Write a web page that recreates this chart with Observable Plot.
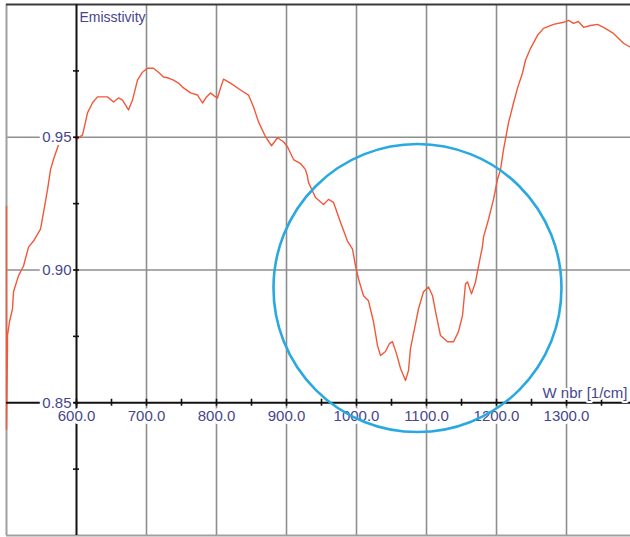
<!DOCTYPE html>
<html>
<head>
<meta charset="utf-8">
<script src="https://cdn.jsdelivr.net/npm/d3@7"></script>
<script src="https://cdn.jsdelivr.net/npm/@observablehq/plot@0.6"></script>
<style>
  html, body { margin: 0; padding: 0; background: #fff; }
  #chart { width: 630px; height: 537px; overflow: hidden; }
</style>
</head>
<body>
<div id="chart"></div>
<script>
// ---- data ----
const wavenumber = [
  500, 500, 501.4, 501.4, 504.3, 508.6, 510, 517.1, 524.3, 531.4, 538.6, 548.6, 552.9, 558.6, 562.9, 567.1,
  574.3, 594.3, 601.4, 608.6, 612.9, 615.7, 622.9, 630, 644.3, 652.9, 660, 665.7, 674.3, 680, 684.3,
  687.1, 694.3, 701.4, 710, 717.1, 724.3, 731.4, 738.6, 745.7, 751.4, 762.9, 772.9, 780, 785.7, 791.4,
  797.1, 801.4, 805.7, 810, 820, 834.3, 845.7, 852.9, 860, 870, 878.6, 887.1, 895.7, 901.4, 910, 920,
  927.1, 930, 931.4, 941.4, 952.9, 960, 967.1, 977.1, 987.1, 994.3, 998.6, 1002.9, 1010, 1017.1, 1024.3,
  1030, 1034.3, 1041.4, 1047.1, 1051.4, 1057.1, 1062.9, 1070, 1074.3, 1077.1, 1081.4, 1088.6, 1095.7,
  1102.9, 1108.6, 1112.9, 1120, 1130, 1138.6, 1145.7, 1151.4, 1155.7, 1158.6, 1164.3, 1170, 1174.3, 1180,
  1181.4, 1188.6, 1195.7, 1201.4, 1205.7, 1210, 1217.1, 1224.3, 1230, 1237.1, 1241.4, 1248.6, 1258.6,
  1267.1, 1281.4, 1295.7, 1302.9, 1310, 1317, 1324.3, 1334.3, 1344.3, 1352.9, 1367.1, 1381.4, 1391.4
];
const emissivity = [
  0.924, 0.840, 0.8704, 0.8753, 0.8805, 0.8854, 0.8918, 0.8978, 0.9015, 0.9086, 0.9109, 0.9154, 0.9217, 0.9303, 0.9378, 0.9416,
  0.9472, 0.9502, 0.9494, 0.9509, 0.9558, 0.9592, 0.9630, 0.9652, 0.9652, 0.9633, 0.9648, 0.9640, 0.9603, 0.9640, 0.9685,
  0.9715, 0.9745, 0.9760, 0.9760, 0.9745, 0.9727, 0.9723, 0.9715, 0.9704, 0.9689, 0.9667, 0.9659, 0.9629, 0.9652, 0.9667,
  0.9655, 0.9648, 0.9685, 0.9719, 0.9704, 0.9678, 0.9659, 0.9614, 0.9558, 0.9502, 0.9468, 0.9498, 0.9483, 0.9464, 0.9416, 0.9401,
  0.9378, 0.9352, 0.9330, 0.9273, 0.9247, 0.9266, 0.9255, 0.9180, 0.9109, 0.9079, 0.9015, 0.8966, 0.8903, 0.8884, 0.8805,
  0.8715, 0.8678, 0.8693, 0.8723, 0.8730, 0.8685, 0.8629, 0.8584, 0.8622, 0.8704, 0.8760, 0.8854, 0.8918,
  0.8936, 0.8903, 0.8843, 0.8753, 0.8730, 0.8730, 0.8768, 0.8828, 0.8948, 0.8955, 0.8910, 0.8955, 0.9015, 0.9090,
  0.9124, 0.9191, 0.9266, 0.9341, 0.9378, 0.9453, 0.9554, 0.9629, 0.9685, 0.9742, 0.9790, 0.9835, 0.9884,
  0.9910, 0.9925, 0.9933, 0.9940, 0.9929, 0.9936, 0.9914, 0.9921, 0.9925, 0.9914, 0.9891, 0.9854, 0.9839
];
const xDomain = [500, 1391.4];
const yDomain = [0.80, 1.00];
const xGrid = [700, 800, 900, 1000, 1100, 1200, 1300];
const yGrid = [0.90, 0.95];
const xTickLabels = [600, 700, 800, 900, 1000, 1100, 1200, 1300];
const yTickLabels = [0.85, 0.90, 0.95];
const xMinorTicks = [600, 650, 700, 750, 800, 850, 900, 950, 1000, 1050, 1100, 1150, 1200, 1250, 1300, 1350];
const yMinorTicks = [0.825, 0.85, 0.875, 0.90, 0.925, 0.95, 0.975];
const axisX0 = 600;      // wavenumber where the y axis crosses
const axisY0 = 0.85;     // emissivity where the x axis crosses
const yTitle = "Emisstivity";
const xTitle = "W nbr [1/cm]";
const highlight = [{x: 1087.1, y: 0.8932}];

const spectrum = wavenumber.map((w, i) => ({w, e: emissivity[i]}));

const labelColor = "#46468c";
const gridColor = "#8e8e8e";
const font = "'Liberation Sans', Arial, sans-serif";

const chart = Plot.plot({
  width: 630,
  height: 537,
  marginTop: 4,
  marginBottom: 2,
  marginLeft: 6,
  marginRight: 0,
  style: {background: "white", fontFamily: font, overflow: "hidden"},
  x: {domain: xDomain, axis: null},
  y: {domain: yDomain, axis: null},
  marks: [
    // gridlines
    Plot.ruleX(xGrid, {stroke: gridColor, strokeWidth: 1.6}),
    Plot.ruleY(yGrid, {stroke: gridColor, strokeWidth: 1.6}),
    // frame
    Plot.ruleX([xDomain[0]], {stroke: "#a0a0a0", strokeWidth: 2}),
    Plot.ruleY([yDomain[0]], {stroke: "#a0a0a0", strokeWidth: 2}),
    Plot.ruleY([yDomain[1]], {stroke: "#3a3a3a", strokeWidth: 2.2}),
    // spectrum
    Plot.line(spectrum, {x: "w", y: "e", stroke: "#f2583a", strokeWidth: 1.4, curve: "linear"}),
    // axes lines
    Plot.ruleY([axisY0], {stroke: "#111", strokeWidth: 2}),
    Plot.ruleX([axisX0], {stroke: "#111", strokeWidth: 2}),
    // tick labels with white background halos
    Plot.text(xTickLabels, {
      x: d => d, y: axisY0, dy: 13, text: d => d.toFixed(1),
      fill: labelColor, stroke: "white", strokeWidth: 6, paintOrder: "stroke",
      fontSize: 15, textAnchor: "middle", lineAnchor: "middle"
    }),
    Plot.text(yTickLabels, {
      x: axisX0, y: d => d, dx: -5, text: d => d.toFixed(2),
      fill: labelColor, stroke: "white", strokeWidth: 6, paintOrder: "stroke",
      fontSize: 15, textAnchor: "end", lineAnchor: "middle"
    }),
    // ticks crossing the axes
    Plot.ruleY(yMinorTicks, {y: d => d, x1: axisX0, x2: axisX0, insetLeft: -3, insetRight: -3, stroke: "#111", strokeWidth: 1.6}),
    Plot.ruleX(xMinorTicks, {x: d => d, y1: axisY0, y2: axisY0, insetTop: -3.5, insetBottom: -3.5, stroke: "#111", strokeWidth: 1.6}),
    // axis titles
    Plot.text([yTitle], {
      x: axisX0, y: yDomain[1], dx: 3, dy: 13, text: d => d,
      fill: labelColor, fontSize: 14, textAnchor: "start", lineAnchor: "middle"
    }),
    Plot.text([xTitle], {
      x: 1300, y: axisY0, dx: -24, dy: -10, text: d => d,
      fill: labelColor, stroke: "white", strokeWidth: 4, paintOrder: "stroke",
      fontSize: 15, textAnchor: "start", lineAnchor: "middle"
    }),
    // highlight circle
    Plot.dot(highlight, {x: "x", y: "y", r: 144, stroke: "#2aa9e0", strokeWidth: 2.6, fill: "none"})
  ]
});
document.getElementById("chart").appendChild(chart);
</script>
</body>
</html>
